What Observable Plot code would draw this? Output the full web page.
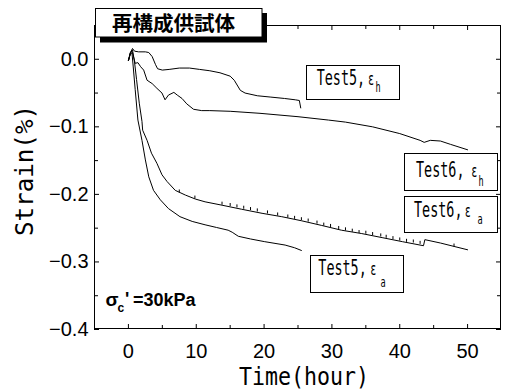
<!DOCTYPE html>
<html><head><meta charset="utf-8">
<script src="https://cdn.jsdelivr.net/npm/d3@7"></script>
<script src="https://cdn.jsdelivr.net/npm/@observablehq/plot@0.6"></script>
<style>body{margin:0;background:#fff}</style>
</head><body><div id="chart"></div>
<script>
// ---- data: [time (hour), strain (%)] ----
const test5h = [[0,-0.002],[0.3,0.010],[0.6,0.016],[0.9,0.012],[1.5,0.011],[2.5,0.011],[3.0,0.010],[3.5,0.004],[4.0,-0.008],[4.3,-0.014],[5,-0.016],[6,-0.015],[7.5,-0.013],[9,-0.013],[10.5,-0.015],[12,-0.017],[13.5,-0.020],[15,-0.025],[15.6,-0.031],[16.5,-0.046],[17.2,-0.050],[19,-0.054],[21,-0.056],[23,-0.058],[24.6,-0.060],[25.2,-0.061],[25.4,-0.072]];
const test6h = [[0,-0.002],[0.3,0.008],[0.6,0.010],[0.8,0.002],[1.0,-0.006],[1.4,-0.005],[1.8,-0.011],[2.25,-0.016],[2.75,-0.031],[3.5,-0.036],[4.2,-0.043],[4.95,-0.050],[5.4,-0.060],[5.9,-0.053],[6.7,-0.049],[7.2,-0.053],[7.9,-0.058],[8.6,-0.066],[9.6,-0.074],[10.8,-0.076],[12,-0.076],[15,-0.077],[19.4,-0.080],[25,-0.085],[29.5,-0.090],[32,-0.093],[36,-0.100],[40,-0.110],[43,-0.120],[43.6,-0.123],[44.5,-0.120],[46,-0.121],[47.5,-0.126],[50,-0.134]];
const test6a = [[0,-0.002],[0.3,0.010],[0.6,0.014],[0.9,-0.004],[1.2,-0.030],[1.6,-0.065],[2.0,-0.092],[2.1,-0.105],[2.75,-0.120],[3.4,-0.139],[4.2,-0.154],[4.95,-0.171],[5.7,-0.181],[6.9,-0.194],[8.4,-0.201],[9.9,-0.207],[11.3,-0.211],[13.8,-0.216],[16.7,-0.222],[19.7,-0.228],[22.6,-0.233],[25.5,-0.239],[28.5,-0.246],[31.4,-0.253],[34.4,-0.258],[37.4,-0.264],[40.4,-0.270],[43.5,-0.276],[43.7,-0.267],[46,-0.272],[48,-0.277],[50,-0.282]];
const test5a = [[0,-0.002],[0.3,0.010],[0.5,0.012],[0.7,-0.010],[1.0,-0.045],[1.4,-0.090],[2.0,-0.120],[2.5,-0.149],[3.0,-0.174],[3.7,-0.194],[4.7,-0.208],[5.9,-0.221],[7.6,-0.233],[9.4,-0.240],[11.3,-0.245],[13,-0.249],[14.7,-0.253],[15.3,-0.256],[16.2,-0.262],[18,-0.266],[20.1,-0.270],[23.1,-0.275],[24.5,-0.279],[25.5,-0.283]];
// small upward spikes on the Test6 εa record
const test6aSpikes = [[7.5,-0.198],[9.8,-0.207],[13.8,-0.216],[15,-0.218],[16,-0.220],[17,-0.222],[18,-0.224],[19,-0.226],[20.5,-0.229],[22,-0.232],[23.5,-0.235],[24.5,-0.237],[25.5,-0.239],[26.5,-0.241],[27.8,-0.244],[28.8,-0.247],[29.8,-0.249],[31,-0.252],[32,-0.254],[33,-0.256],[34,-0.258],[35,-0.259],[36,-0.261],[37.2,-0.263],[38,-0.265],[39,-0.267],[40,-0.269],[41,-0.271],[42,-0.272],[43,-0.274],[48,-0.278]];

const xDomain = [-5, 55];
const yDomain = [-0.4, 0.05];
const xMajor = [0,10,20,30,40,50];
const xMinor = [5,15,25,35,45];
const xTickLabels = ["0","10","20","30","40","50"];
const yMajor = [0,-0.1,-0.2,-0.3,-0.4];
const yMinor = [-0.05,-0.15,-0.25,-0.35];
const yTickLabels = ["0.0","\u22120.1","\u22120.2","\u22120.3","\u22120.4"];

const titleText = "再構成供試体";
const xLabel = "Time(hour)";
const yLabel = "Strain(%)";
const seriesLabels = [
  {main:"Test5,", sub:"h"},
  {main:"Test6,", sub:"h"},
  {main:"Test6,", sub:"a"},
  {main:"Test5,", sub:"a"}
];

// ---- layout ----
const W = 506, H = 390, mL = 94, mR = 5, mT = 25, mB = 61;
const pw = W - mL - mR, ph = H - mT - mB;
const series = [test5h, test6h, test6a, test5a];

const chart = Plot.plot({
  width: W, height: H,
  marginLeft: mL, marginRight: mR, marginTop: mT, marginBottom: mB,
  style: {fontFamily: "'Liberation Sans', Arial, sans-serif", fontSize: "20px", background: "white", color: "black"},
  x: {domain: xDomain, ticks: xMajor, tickFormat: d => xTickLabels[xMajor.indexOf(d)], tickSize: 0, tickPadding: 14, label: null},
  y: {domain: yDomain, ticks: yMajor, tickFormat: d => yTickLabels[yMajor.indexOf(d)], tickSize: 0, tickPadding: 6, label: null},
  marks: [
    ...series.map(s => Plot.line(s, {x: d => d[0], y: d => d[1], stroke: "black", strokeWidth: 1})),
    Plot.ruleX(test6aSpikes, {x: d => d[0], y1: d => d[1], y2: d => d[1] + 0.0045, stroke: "black", strokeWidth: 1}),
    // inward ticks on all four sides
    Plot.tickY(yMajor, {y: d => d, insetRight: pw - 5, stroke: "black"}),
    Plot.tickY(yMinor, {y: d => d, insetRight: pw - 4, stroke: "black"}),
    Plot.tickY(yMajor, {y: d => d, insetLeft: pw - 5, stroke: "black"}),
    Plot.tickY(yMinor, {y: d => d, insetLeft: pw - 4, stroke: "black"}),
    Plot.tickX(xMajor, {x: d => d, insetTop: ph - 5, stroke: "black"}),
    Plot.tickX(xMinor, {x: d => d, insetTop: ph - 4, stroke: "black"}),
    Plot.tickX(xMajor, {x: d => d, insetBottom: ph - 5, stroke: "black"}),
    Plot.tickX(xMinor, {x: d => d, insetBottom: ph - 4, stroke: "black"})
  ]
});
document.getElementById("chart").appendChild(chart);

// ---- annotations ----
const svg = d3.select(chart);
const xs = chart.scale("x"), ys = chart.scale("y");
// crisp black frame, aligned to the pixel grid from the plot's scales
const fx0 = Math.round(xs.apply(xDomain[0])) + 0.5, fx1 = Math.round(xs.apply(xDomain[1])) - 0.5;
const fy0 = Math.round(ys.apply(yDomain[1])) + 0.5, fy1 = Math.round(ys.apply(yDomain[0])) - 0.5;
svg.append("rect").attr("x", fx0).attr("y", fy0).attr("width", fx1 - fx0).attr("height", fy1 - fy0)
  .attr("fill", "none").attr("stroke", "black").attr("stroke-width", 1);

const g = svg.append("g").attr("text-anchor", "start").attr("fill", "black");
const mono = "'DejaVu Sans Mono', 'Liberation Mono', monospace";

// title box with drop shadow
g.append("rect").attr("x", 100).attr("y", 13).attr("width", 167).attr("height", 29.5).attr("fill", "black");
g.append("rect").attr("x", 95.5).attr("y", 8.5).attr("width", 166.5).attr("height", 28.5).attr("fill", "white").attr("stroke", "black");
g.append("text").attr("x", 112).attr("y", 30.5).text(titleText)
  .attr("font-family", "'Noto Sans CJK JP', sans-serif").attr("font-weight", 700).attr("font-size", 20)
  .attr("textLength", 123).attr("lengthAdjust", "spacingAndGlyphs");

// series label boxes (one text element each, horizontally condensed)
const sx = 0.61;
const boxes = [
  {x:306, y:65,  w:93, h:34, mx:316.7, base:85,    ex:368.3, sx:375.5, sb:91.5},
  {x:404, y:153, w:93, h:37, mx:416,   base:176.7, ex:471.5, sx:478.5, sb:186},
  {x:404, y:196, w:93, h:36, mx:414,   base:217.3, ex:465,   sx:477.5, sb:224},
  {x:310, y:255, w:93, h:37, mx:318.3, base:275,   ex:370.5, sx:380.5, sb:286.7}
];
boxes.forEach((b, i) => {
  const lab = seriesLabels[i];
  g.append("rect").attr("x", b.x + 0.5).attr("y", b.y + 0.5).attr("width", b.w).attr("height", b.h)
    .attr("fill", "white").attr("stroke", "black");
  const t = g.append("text").attr("transform", `translate(${b.mx},${b.base}) scale(${sx},1)`)
    .attr("font-family", mono).attr("font-size", 22);
  t.append("tspan").attr("x", 0).attr("y", 0).text(lab.main);
  t.append("tspan").attr("x", (b.ex - b.mx) / sx).attr("font-family", "'DejaVu Sans', sans-serif").attr("font-size", 17).text("ε");
  t.append("tspan").attr("x", (b.sx - b.mx) / sx).attr("y", b.sb - b.base).attr("font-size", 14).text(lab.sub);
});

// sigma_c' = 30kPa
const sig = g.append("text").attr("font-family", "'Liberation Sans', Arial, sans-serif").attr("font-weight", 700).attr("font-size", 18);
sig.append("tspan").attr("x", 105.5).attr("y", 306).attr("font-size", 19).text("σ");
sig.append("tspan").attr("x", 117.5).attr("y", 311.5).attr("font-size", 12).text("c");
sig.append("tspan").attr("x", 125).attr("y", 305).text("'");
sig.append("tspan").attr("x", 133).attr("y", 305.7).text("=30kPa");

// axis titles
g.append("text").attr("x", 239).attr("y", 385).text(xLabel)
  .attr("font-family", mono).attr("font-size", 24)
  .attr("textLength", 130).attr("lengthAdjust", "spacingAndGlyphs");
g.append("text").attr("transform", "translate(33,236) rotate(-90)").text(yLabel)
  .attr("font-family", mono).attr("font-size", 25)
  .attr("textLength", 131).attr("lengthAdjust", "spacingAndGlyphs");
</script>
</body></html>
